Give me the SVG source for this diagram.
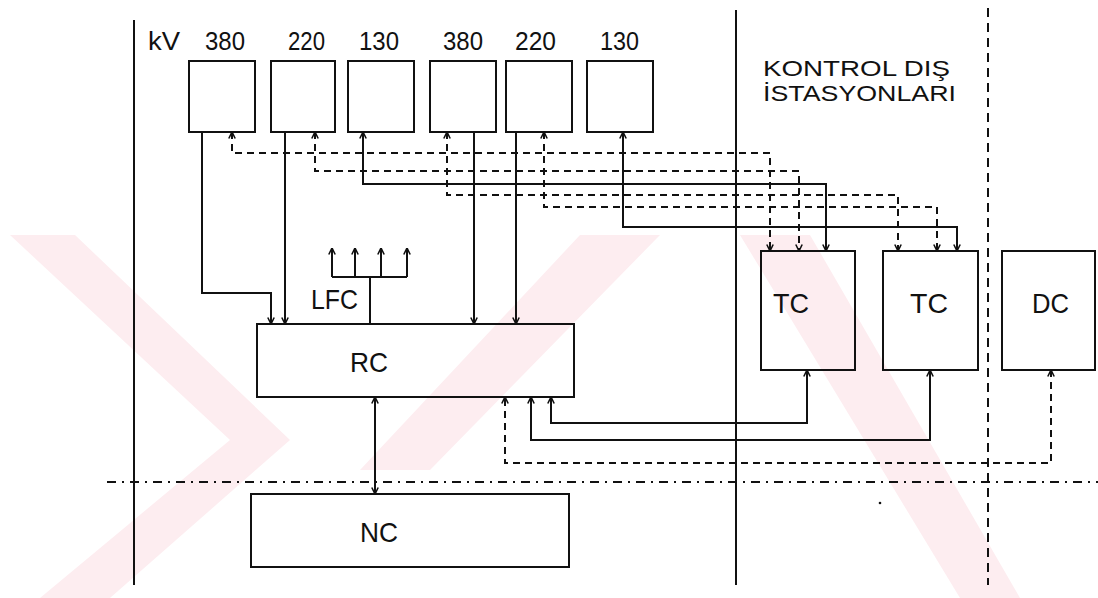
<svg xmlns="http://www.w3.org/2000/svg" width="1098" height="598" viewBox="0 0 1098 598">
<defs>
<style>
.bg{fill:#ffffff}
.wm{fill:#fdedf0}
.box{fill:none;stroke:#111;stroke-width:2}
.ln{fill:none;stroke:#111;stroke-width:2}
.dl{fill:none;stroke:#111;stroke-width:2;stroke-dasharray:7,5}
.bd{fill:none;stroke:#111;stroke-width:2}
.bdd{fill:none;stroke:#111;stroke-width:2;stroke-dasharray:9,6}
.bdh{fill:none;stroke:#111;stroke-width:2;stroke-dasharray:9,6,2,6}
.t{font-family:"Liberation Sans",Arial,sans-serif;fill:#111}
.kv{font-size:25px}
.ks{font-size:22px}
.lb{font-size:28px}
</style>
<marker id="ah" viewBox="0 0 8 8" refX="7.5" refY="4" markerWidth="8" markerHeight="8" markerUnits="userSpaceOnUse" orient="auto-start-reverse">
<path d="M1,0.8 L7.5,4 L1,7.2" fill="none" stroke="#111" stroke-width="1.6"/>
</marker>
</defs>
<rect class="bg" x="0" y="0" width="1098" height="598"/>
<g id="watermark">
<polygon class="wm" points="10,235 75,235 290,440 230,440"/>
<polygon class="wm" points="230,440 290,440 110,598 40,598"/>
<polygon class="wm" points="580,235 660,235 430,470 360,470"/>
<polygon class="wm" points="740,235 810,235 1020,598 960,598"/>
</g>
<g id="boundaries">
<line class="bd" x1="134" y1="20" x2="134" y2="585"/>
<line class="bd" x1="736" y1="10" x2="736" y2="585"/>
<line class="bdd" x1="988" y1="8" x2="988" y2="585"/>
<line class="bdh" x1="107" y1="482" x2="1098" y2="482"/>
<circle cx="880" cy="503" r="1.3" fill="#111"/>
</g>
<g id="labels">
<text class="t kv" x="148" y="50" textLength="32" lengthAdjust="spacingAndGlyphs">kV</text>
<text class="t kv" x="205" y="50" textLength="40" lengthAdjust="spacingAndGlyphs">380</text>
<text class="t kv" x="288" y="50" textLength="37" lengthAdjust="spacingAndGlyphs">220</text>
<text class="t kv" x="359" y="50" textLength="40" lengthAdjust="spacingAndGlyphs">130</text>
<text class="t kv" x="443" y="50" textLength="40" lengthAdjust="spacingAndGlyphs">380</text>
<text class="t kv" x="515" y="50" textLength="41" lengthAdjust="spacingAndGlyphs">220</text>
<text class="t kv" x="600" y="50" textLength="39" lengthAdjust="spacingAndGlyphs">130</text>
<text class="t ks" x="763" y="76" textLength="187" lengthAdjust="spacingAndGlyphs">KONTROL DIŞ</text>
<text class="t ks" x="763" y="101" textLength="193" lengthAdjust="spacingAndGlyphs">İSTASYONLARI</text>
</g>
<g id="bus-380a"><rect class="box" x="189" y="61" width="66" height="71"/></g>
<g id="bus-220a"><rect class="box" x="271" y="61" width="64" height="71"/></g>
<g id="bus-130a"><rect class="box" x="348" y="61" width="66" height="71"/></g>
<g id="bus-380b"><rect class="box" x="430" y="61" width="66" height="71"/></g>
<g id="bus-220b"><rect class="box" x="506" y="61" width="66" height="71"/></g>
<g id="bus-130b"><rect class="box" x="587" y="61" width="66" height="71"/></g>
<g id="tc1"><rect class="box" x="761" y="251" width="94" height="119"/><text class="t lb" x="773" y="313" textLength="36" lengthAdjust="spacingAndGlyphs">TC</text></g>
<g id="tc2"><rect class="box" x="883" y="251" width="95" height="119"/><text class="t lb" x="910" y="313" textLength="38" lengthAdjust="spacingAndGlyphs">TC</text></g>
<g id="dc"><rect class="box" x="1002" y="251" width="93" height="119"/><text class="t lb" x="1032" y="313" textLength="37" lengthAdjust="spacingAndGlyphs">DC</text></g>
<g id="rc"><rect class="box" x="257" y="324" width="317" height="73"/><text class="t lb" x="350" y="372" textLength="38" lengthAdjust="spacingAndGlyphs">RC</text></g>
<g id="nc"><rect class="box" x="251" y="494" width="318" height="73"/><text class="t lb" x="360" y="542" textLength="38" lengthAdjust="spacingAndGlyphs">NC</text></g>
<g id="lfc"><text class="t lb" x="311" y="309" textLength="47" lengthAdjust="spacingAndGlyphs">LFC</text></g>
<g id="connectors">
<path class="ln" d="M202,132 V293 H271 V324" marker-end="url(#ah)"/>
<path class="ln" d="M285,132 V324" marker-end="url(#ah)"/>
<path class="ln" d="M474,132 V324" marker-end="url(#ah)"/>
<path class="ln" d="M516,132 V324" marker-end="url(#ah)"/>
<path class="ln" d="M370,324 V277"/>
<path class="ln" d="M332,277 H407"/>
<path class="ln" d="M332,277 V248" marker-end="url(#ah)"/>
<path class="ln" d="M355,277 V248" marker-end="url(#ah)"/>
<path class="ln" d="M381,277 V248" marker-end="url(#ah)"/>
<path class="ln" d="M407,277 V248" marker-end="url(#ah)"/>
<path class="ln" d="M375,397 V494" marker-start="url(#ah)" marker-end="url(#ah)"/>
<path class="dl" d="M232,132 V153 H770 V251" marker-start="url(#ah)" marker-end="url(#ah)"/>
<path class="dl" d="M315,132 V171 H799 V251" marker-start="url(#ah)" marker-end="url(#ah)"/>
<path class="ln" d="M363,132 V184 H826 V251" marker-start="url(#ah)" marker-end="url(#ah)"/>
<path class="dl" d="M447,132 V195 H898 V251" marker-start="url(#ah)" marker-end="url(#ah)"/>
<path class="dl" d="M544,132 V207 H937 V251" marker-start="url(#ah)" marker-end="url(#ah)"/>
<path class="ln" d="M623,132 V227 H957 V251" marker-start="url(#ah)" marker-end="url(#ah)"/>
<path class="ln" d="M807,370 V423 H551 V397" marker-start="url(#ah)" marker-end="url(#ah)"/>
<path class="ln" d="M930,370 V440 H531 V397" marker-start="url(#ah)" marker-end="url(#ah)"/>
<path class="dl" d="M1051,370 V463 H505 V397" marker-start="url(#ah)" marker-end="url(#ah)"/>
</g>
</svg>
